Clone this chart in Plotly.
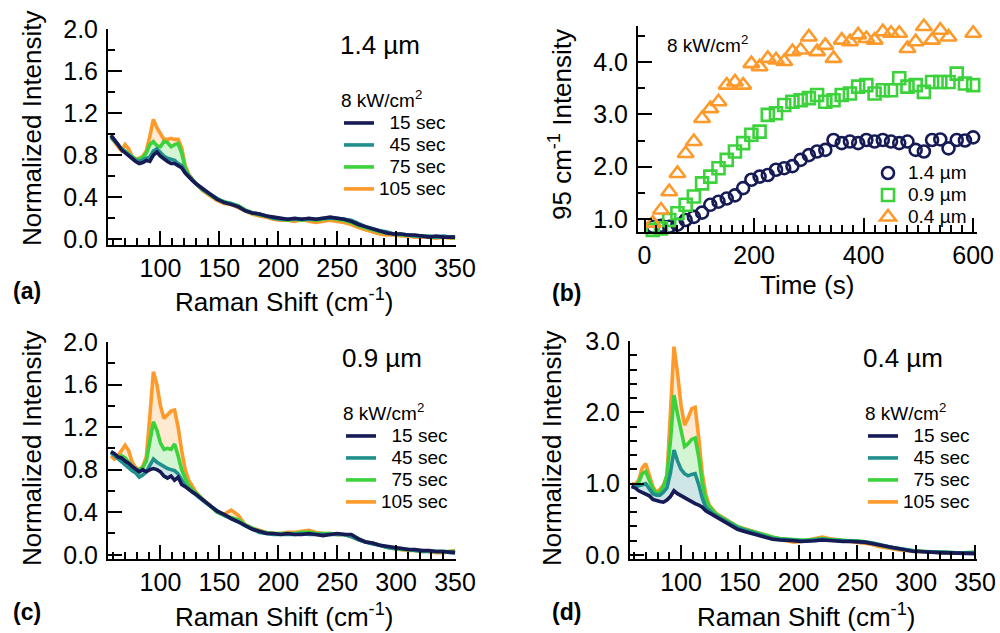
import plotly.graph_objects as go

F = "Liberation Sans, Arial, sans-serif"
W, H = 1000, 633

NAVY = "#161a55"
TEAL = "#21908d"
GREEN = "#3cd23c"
ORANGE = "#fd9a2b"
FILL = {"45": "rgba(33,144,141,0.22)", "75": "rgba(60,210,60,0.22)", "105": "rgba(253,154,43,0.22)"}
COL = {"15": NAVY, "45": TEAL, "75": GREEN, "105": ORANGE}

# ---------------- data ----------------
raman_x = [58, 61, 64, 67, 70, 73, 76, 79, 82, 85, 88, 91, 94, 97, 100, 103, 106, 109, 112, 115, 118, 121, 124, 127, 130,
           136, 142, 148, 154, 160, 166, 172, 178, 184, 190, 196, 202, 208, 214, 220, 226, 232, 238, 244, 250, 256,
           262, 268, 274, 280, 286, 292, 298, 304, 310, 316, 322, 328, 334, 340, 346, 350]

a_15 = [0.99, 0.95, 0.90, 0.85, 0.82, 0.80, 0.76, 0.74, 0.72, 0.73, 0.75, 0.74, 0.80, 0.83, 0.79, 0.76, 0.74, 0.72, 0.72, 0.70, 0.68, 0.63, 0.59, 0.56, 0.53,
        0.48, 0.44, 0.38, 0.35, 0.33, 0.31, 0.27, 0.25, 0.24, 0.22, 0.21, 0.20, 0.19, 0.20, 0.19, 0.20, 0.19, 0.20, 0.21, 0.20, 0.19, 0.17, 0.14, 0.12, 0.10, 0.08, 0.06, 0.05, 0.05, 0.04, 0.04, 0.03, 0.02, 0.03, 0.02, 0.02, 0.02]
a_45 = [0.97, 0.94, 0.90, 0.86, 0.83, 0.80, 0.77, 0.75, 0.74, 0.76, 0.77, 0.78, 0.84, 0.86, 0.82, 0.79, 0.77, 0.76, 0.75, 0.72, 0.70, 0.64, 0.60, 0.56, 0.53,
        0.47, 0.43, 0.39, 0.35, 0.34, 0.31, 0.27, 0.25, 0.24, 0.22, 0.20, 0.19, 0.19, 0.19, 0.19, 0.19, 0.19, 0.20, 0.20, 0.20, 0.19, 0.18, 0.15, 0.12, 0.10, 0.08, 0.07, 0.05, 0.05, 0.04, 0.03, 0.03, 0.03, 0.02, 0.03, 0.02, 0.02]
a_75 = [0.98, 0.94, 0.89, 0.86, 0.84, 0.81, 0.78, 0.76, 0.76, 0.78, 0.82, 0.90, 0.93, 0.89, 0.88, 0.93, 0.92, 0.88, 0.90, 0.91, 0.82, 0.68, 0.61, 0.57, 0.53,
        0.47, 0.42, 0.38, 0.36, 0.34, 0.32, 0.28, 0.25, 0.23, 0.22, 0.20, 0.19, 0.18, 0.19, 0.18, 0.19, 0.18, 0.19, 0.20, 0.19, 0.18, 0.16, 0.13, 0.11, 0.09, 0.07, 0.06, 0.05, 0.04, 0.04, 0.03, 0.03, 0.02, 0.02, 0.02, 0.02, 0.01]
a_105 = [0.97, 0.92, 0.88, 0.84, 0.90, 0.86, 0.79, 0.76, 0.77, 0.79, 0.84, 0.98, 1.14, 1.06, 1.00, 0.95, 0.95, 0.96, 0.95, 0.95, 0.87, 0.70, 0.62, 0.57, 0.53,
         0.46, 0.41, 0.37, 0.34, 0.33, 0.30, 0.27, 0.24, 0.22, 0.21, 0.19, 0.18, 0.18, 0.17, 0.19, 0.17, 0.16, 0.17, 0.18, 0.17, 0.16, 0.14, 0.11, 0.09, 0.07, 0.05, 0.04, 0.04, 0.03, 0.03, 0.02, 0.02, 0.02, 0.01, 0.02, 0.01, 0.01]

c_15 = [0.97, 0.95, 0.92, 0.91, 0.88, 0.86, 0.83, 0.80, 0.78, 0.80, 0.78, 0.80, 0.81, 0.80, 0.78, 0.74, 0.72, 0.74, 0.70, 0.73, 0.66, 0.64, 0.61, 0.59, 0.57,
        0.52, 0.47, 0.41, 0.38, 0.34, 0.31, 0.27, 0.24, 0.22, 0.20, 0.20, 0.19, 0.20, 0.19, 0.19, 0.20, 0.19, 0.18, 0.19, 0.20, 0.19, 0.19, 0.15, 0.12, 0.11, 0.09, 0.08, 0.07, 0.06, 0.05, 0.05, 0.04, 0.04, 0.03, 0.03, 0.02, 0.02]
c_45 = [0.96, 0.93, 0.90, 0.88, 0.85, 0.82, 0.79, 0.77, 0.73, 0.75, 0.78, 0.84, 0.90, 0.87, 0.85, 0.83, 0.81, 0.80, 0.79, 0.76, 0.70, 0.65, 0.62, 0.59, 0.56,
        0.51, 0.46, 0.41, 0.37, 0.34, 0.31, 0.27, 0.24, 0.21, 0.20, 0.19, 0.19, 0.19, 0.19, 0.20, 0.19, 0.19, 0.19, 0.19, 0.19, 0.19, 0.17, 0.14, 0.12, 0.10, 0.09, 0.07, 0.06, 0.06, 0.05, 0.04, 0.03, 0.03, 0.03, 0.03, 0.02, 0.02]
c_75 = [0.96, 0.94, 0.92, 0.93, 0.91, 0.87, 0.83, 0.80, 0.80, 0.82, 0.88, 1.05, 1.25, 1.17, 1.05, 0.99, 1.00, 0.99, 1.04, 0.93, 0.80, 0.72, 0.65, 0.61, 0.58,
        0.52, 0.46, 0.40, 0.37, 0.35, 0.33, 0.28, 0.25, 0.22, 0.21, 0.20, 0.20, 0.20, 0.20, 0.21, 0.21, 0.20, 0.20, 0.20, 0.19, 0.19, 0.18, 0.15, 0.12, 0.11, 0.09, 0.07, 0.06, 0.05, 0.05, 0.04, 0.04, 0.03, 0.03, 0.03, 0.03, 0.03]
c_105 = [0.93, 0.90, 0.93, 0.98, 1.03, 0.98, 0.87, 0.82, 0.80, 0.83, 0.92, 1.30, 1.72, 1.60, 1.40, 1.28, 1.31, 1.35, 1.36, 1.20, 0.98, 0.80, 0.70, 0.64, 0.59,
         0.52, 0.46, 0.41, 0.38, 0.42, 0.37, 0.28, 0.25, 0.23, 0.21, 0.20, 0.20, 0.21, 0.21, 0.22, 0.23, 0.21, 0.20, 0.20, 0.19, 0.19, 0.17, 0.14, 0.12, 0.11, 0.09, 0.07, 0.06, 0.05, 0.04, 0.04, 0.03, 0.03, 0.02, 0.02, 0.03, 0.04]

d_15 = [0.96, 0.94, 0.90, 0.88, 0.86, 0.83, 0.78, 0.76, 0.75, 0.74, 0.77, 0.82, 0.90, 0.86, 0.83, 0.81, 0.78, 0.74, 0.72, 0.70, 0.67, 0.62, 0.59, 0.57, 0.54,
        0.48, 0.41, 0.36, 0.33, 0.30, 0.28, 0.25, 0.22, 0.21, 0.21, 0.20, 0.19, 0.19, 0.20, 0.21, 0.20, 0.19, 0.19, 0.19, 0.19, 0.18, 0.16, 0.14, 0.12, 0.10, 0.08, 0.07, 0.05, 0.05, 0.04, 0.04, 0.03, 0.03, 0.03, 0.02, 0.02, 0.02]
d_45 = [0.97, 0.95, 0.97, 0.99, 1.00, 0.93, 0.86, 0.84, 0.84, 0.88, 0.94, 1.15, 1.47, 1.32, 1.20, 1.14, 1.11, 1.13, 1.14, 0.99, 0.80, 0.67, 0.62, 0.58, 0.55,
        0.49, 0.43, 0.38, 0.35, 0.32, 0.29, 0.26, 0.23, 0.22, 0.21, 0.21, 0.20, 0.20, 0.21, 0.22, 0.21, 0.20, 0.20, 0.20, 0.19, 0.19, 0.17, 0.15, 0.12, 0.10, 0.09, 0.07, 0.06, 0.05, 0.04, 0.04, 0.04, 0.03, 0.03, 0.03, 0.03, 0.03]
d_75 = [0.98, 0.97, 1.02, 1.14, 1.17, 1.05, 0.93, 0.86, 0.88, 0.96, 1.12, 1.60, 2.24, 1.98, 1.75, 1.52, 1.56, 1.62, 1.64, 1.38, 1.02, 0.78, 0.68, 0.62, 0.57,
        0.51, 0.45, 0.40, 0.36, 0.33, 0.31, 0.28, 0.25, 0.23, 0.22, 0.21, 0.21, 0.21, 0.22, 0.23, 0.22, 0.21, 0.21, 0.20, 0.20, 0.19, 0.17, 0.14, 0.12, 0.10, 0.08, 0.07, 0.06, 0.05, 0.05, 0.04, 0.04, 0.03, 0.03, 0.03, 0.03, 0.04]
d_105 = [1.00, 0.99, 1.05, 1.22, 1.28, 1.12, 0.96, 0.88, 0.92, 0.98, 1.10, 2.00, 2.92, 2.55, 2.10, 1.82, 1.92, 2.05, 2.07, 1.65, 1.15, 0.85, 0.70, 0.64, 0.58,
         0.52, 0.46, 0.40, 0.37, 0.34, 0.31, 0.28, 0.24, 0.22, 0.20, 0.18, 0.19, 0.21, 0.24, 0.25, 0.23, 0.21, 0.20, 0.19, 0.18, 0.17, 0.15, 0.12, 0.10, 0.08, 0.07, 0.06, 0.05, 0.05, 0.04, 0.04, 0.03, 0.03, 0.03, 0.03, 0.03, 0.03]

time_s = [15, 30, 45, 60, 75, 90, 105, 120, 135, 150, 165, 180, 195, 210, 225, 240, 255, 270, 285, 300,
          315, 330, 345, 360, 375, 390, 405, 420, 435, 450, 465, 480, 495, 510, 525, 540, 555, 570, 585, 600]
int_14 = [0.85, 0.87, 0.85, 0.89, 0.98, 1.04, 1.12, 1.27, 1.33, 1.39, 1.45, 1.59, 1.75, 1.81, 1.84, 1.94, 1.97, 2.01, 2.13, 2.22,
          2.29, 2.32, 2.51, 2.45, 2.48, 2.45, 2.51, 2.48, 2.51, 2.48, 2.45, 2.48, 2.32, 2.29, 2.51, 2.52, 2.35, 2.51, 2.50, 2.56]
int_09 = [0.79, 0.82, 0.98, 1.11, 1.27, 1.43, 1.68, 1.81, 1.97, 2.13, 2.29, 2.45, 2.61, 2.67, 2.99, 3.02, 3.18, 3.24, 3.27, 3.31,
          3.37, 3.24, 3.27, 3.37, 3.40, 3.53, 3.56, 3.40, 3.46, 3.46, 3.69, 3.53, 3.56, 3.43, 3.62, 3.62, 3.62, 3.78, 3.59, 3.56]
int_04 = [0.92, 1.17, 1.52, 1.87, 2.25, 2.48, 2.92, 3.11, 3.24, 3.56, 3.62, 3.56, 3.97, 3.91, 4.07, 4.04, 4.01, 4.20, 4.23, 4.48,
          4.20, 4.32, 4.07, 4.42, 4.39, 4.52, 4.45, 4.42, 4.58, 4.55, 4.55, 4.26, 4.39, 4.68, 4.42, 4.61, 4.48, 4.71, 4.71, 4.55]

times = ["15", "45", "75", "105"]
legend_names = {"15": "\u00a0\u00a015 sec", "45": "\u00a0\u00a045 sec", "75": "\u00a0\u00a075 sec", "105": "105 sec"}
sizes = ["1.4 µm", "0.9 µm", "0.4 µm"]

for arr in [a_15, a_45, a_75, a_105, c_15, c_45, c_75, c_105, d_15, d_45, d_75, d_105]:
    assert len(arr) == len(raman_x), len(arr)
for arr in [int_14, int_09, int_04]:
    assert len(arr) == len(time_s)

LEG_TXT = 19      # visible legend text size
LEG_BOX = 14.6    # size used by plotly to space legend rows


def big(s):
    return f'<span style="font-size:{LEG_TXT}px">{s}</span>'


fig = go.Figure()


def add_spectra(series, xa, ya, leg):
    # fills between consecutive series (drawn first, below the lines)
    for i, t in enumerate(times):
        fig.add_trace(go.Scatter(
            x=raman_x, y=series[t], mode="lines", line=dict(width=0, color=COL[t]),
            fill=None if i == 0 else "tonexty", fillcolor=FILL.get(t),
            xaxis=xa, yaxis=ya, showlegend=False, hoverinfo="skip"))
    # lines: 105 drawn first, 15 on top
    for rank, t in reversed(list(enumerate(times))):
        fig.add_trace(go.Scatter(
            x=raman_x, y=series[t], mode="lines", line=dict(width=3.6, color=COL[t]),
            name=big(legend_names[t]), legend=leg, legendrank=rank + 1,
            xaxis=xa, yaxis=ya, showlegend=True))


add_spectra({"15": a_15, "45": a_45, "75": a_75, "105": a_105}, "x", "y", "legend")
add_spectra({"15": c_15, "45": c_45, "75": c_75, "105": c_105}, "x3", "y3", "legend3")
add_spectra({"15": d_15, "45": d_45, "75": d_75, "105": d_105}, "x4", "y4", "legend4")

marker_specs = [
    (int_14, sizes[0], "circle-open", NAVY, 12),
    (int_09, sizes[1], "square-open", GREEN, 12),
    (int_04, sizes[2], "triangle-up-open", ORANGE, 14),
]
for vals, name, sym, col, sz in marker_specs:
    fig.add_trace(go.Scatter(
        x=time_s, y=vals, mode="markers", name=big(name), legend="legend2",
        marker=dict(symbol=sym, size=sz, color=col, line=dict(width=2.6, color=col)),
        xaxis="x2", yaxis="y2", cliponaxis=False))


def px_x(px):
    return px / W


def px_y(py):
    return 1 - py / H


def axis(domain, rng, dtick, minor_dtick, fmt=None, is_y=False):
    d = dict(
        domain=domain, range=rng, showline=True, linecolor="black", linewidth=2,
        ticks="inside", ticklen=14, tickwidth=2, tickcolor="black",
        tick0=0, dtick=dtick, showgrid=False, zeroline=False, automargin=False,
        tickfont=dict(family=F, size=25, color="black"),
        minor=dict(ticks="inside", ticklen=7, tickwidth=2, tickcolor="black", dtick=minor_dtick, tick0=0, showgrid=False),
        fixedrange=True, ticklabelstandoff=3 if is_y else 0,
    )
    if fmt:
        d["tickformat"] = fmt
    return d


raman_range = [55.5, 350.8]
fig.update_layout(
    width=W, height=H, margin=dict(l=0, r=0, t=0, b=0, autoexpand=False),
    paper_bgcolor="white", plot_bgcolor="rgba(0,0,0,0)",
    font=dict(family=F, color="black"),
    xaxis=axis([px_x(108), px_x(456)], raman_range, 50, 10),
    yaxis=axis([px_y(245), px_y(29)], [-0.055, 2.0], 0.4, 0.2, ".1f", True),
    xaxis2=axis([px_x(638), px_x(977)], [-12, 607], 200, 20),
    yaxis2=axis([px_y(232), px_y(26)], [0.75, 4.69], 1, 0.5, ".1f", True),
    xaxis3=axis([px_x(108), px_x(456)], raman_range, 50, 10),
    yaxis3=axis([px_y(559), px_y(342)], [-0.04, 2.0], 0.4, 0.2, ".1f", True),
    xaxis4=axis([px_x(630), px_x(977)], [56.6, 351.7], 50, 10),
    yaxis4=axis([px_y(559), px_y(341)], [-0.056, 3.0], 1.0, 0.2, ".1f", True),
)
fig.layout.xaxis2.anchor = "y2"
fig.layout.yaxis2.anchor = "x2"
fig.layout.xaxis3.anchor = "y3"
fig.layout.yaxis3.anchor = "x3"
fig.layout.xaxis4.anchor = "y4"
fig.layout.yaxis4.anchor = "x4"

leg_common = dict(xanchor="left", yanchor="top", bgcolor="rgba(0,0,0,0)", borderwidth=0, traceorder="normal",
                  font=dict(family=F, size=LEG_BOX, color="black"), tracegroupgap=0,
                  itemclick=False, itemdoubleclick=False)
title_k = dict(text=big("8 kW/cm<sup>2</sup>"), font=dict(family=F, size=LEG_BOX, color="black"))
fig.update_layout(
    legend=dict(x=px_x(339), y=px_y(88), title=title_k, **leg_common),
    legend3=dict(x=px_x(341), y=px_y(401), title=title_k, **leg_common),
    legend4=dict(x=px_x(863), y=px_y(401), title=title_k, **leg_common),
    legend2=dict(x=px_x(868), y=px_y(157), **leg_common),
)

ann = []


def text(x, y, s, size, bold=False, angle=0):
    ann.append(dict(x=px_x(x), y=px_y(y), xref="paper", yref="paper", text=f"<b>{s}</b>" if bold else s,
                    showarrow=False, xanchor="center", yanchor="middle", textangle=angle,
                    font=dict(family=F, size=size, color="black")))


# panel labels
text(27, 291, "(a)", 23, bold=True)
text(566, 293, "(b)", 23, bold=True)
text(27, 612, "(c)", 23, bold=True)
text(566, 612, "(d)", 23, bold=True)
# particle sizes
text(380, 45, sizes[0], 26)
text(382, 358, sizes[1], 26)
text(903, 358, sizes[2], 26)
text(707, 44, "8 kW/cm<sup>2</sup>", 19)
# axis titles
xt = "Raman Shift (cm<sup>-1</sup>)"
text(284, 300, xt, 26)
text(284, 615, xt, 26)
text(806, 615, xt, 26)
text(807, 285, "Time (s)", 26)
text(32, 128, "Normalized Intensity", 26, angle=-90)
text(32, 448, "Normalized Intensity", 26, angle=-90)
text(552, 448, "Normalized Intensity", 26, angle=-90)
text(560, 125, "95 cm<sup>-1</sup> Intensity", 26, angle=-90)
fig.update_layout(annotations=ann)

fig.write_html("out.html")
